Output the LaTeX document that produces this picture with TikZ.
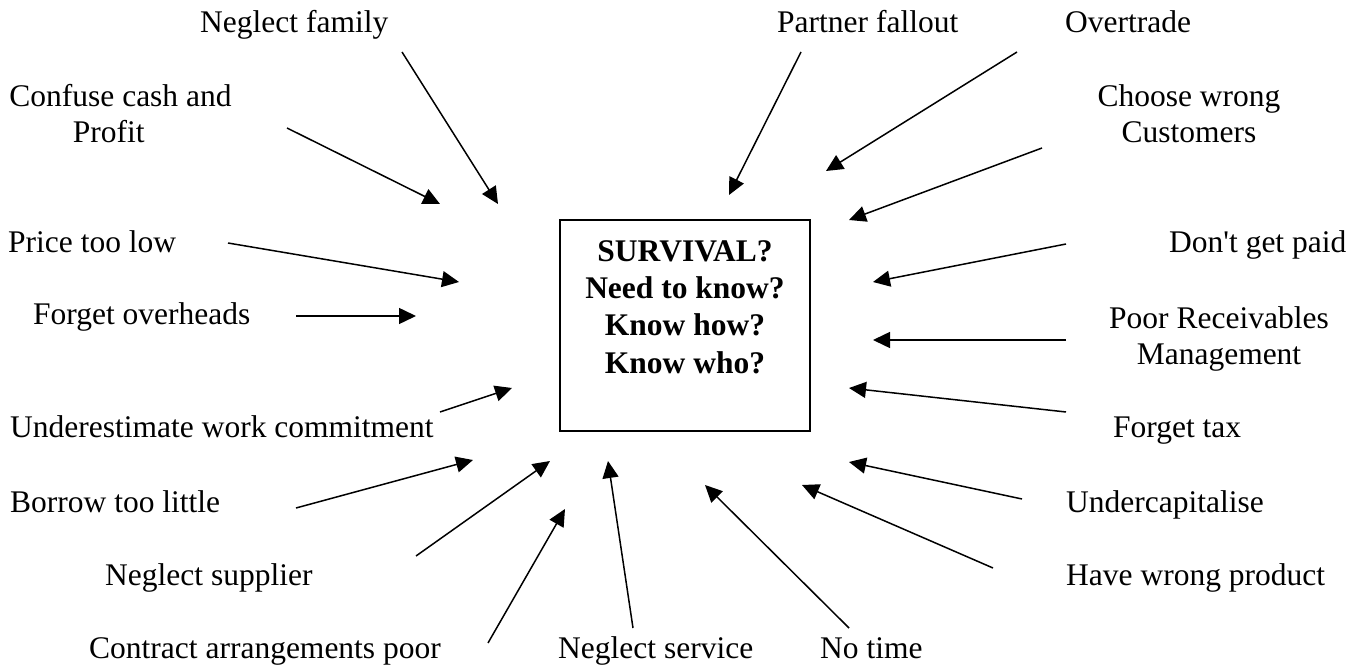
\documentclass[tikz,border=0pt]{standalone}
\usepackage{fontspec}
\setmainfont{Liberation Serif}
\usetikzlibrary{arrows.meta}
\begin{document}
\begin{tikzpicture}[x=1pt,y=-1pt,
    font=\fontsize{31.5pt}{36.7pt}\selectfont,
    cause/.style={anchor=base west,inner sep=0pt},
    pair/.style={anchor=base,align=center,inner sep=0pt},
    hub/.style={draw,line width=1.3pt,minimum width=250pt,minimum height=211pt,
      align=center,font=\fontsize{31.5pt}{37.3pt}\selectfont\bfseries}]
  \useasboundingbox (0,0) rectangle (1361,668);
  % centre box
  \draw
    (685,325.5) node[hub] (hub){SURVIVAL?\\Need to know?\\Know how?\\Know who?\\\mbox{}};
  % causes
  \draw
    (200,33) node[cause] (family){Neglect family}
    (777,33) node[cause] (partner){Partner fallout}
    (1065,33) node[cause] (overtrade){Overtrade}
    (120.5,143) node[pair] (cash){Confuse cash and\\Profit\hphantom{x\ }}
    (1189,143) node[pair] (customers){Choose wrong\\Customers}
    (8,253) node[cause] (price){Price too low}
    (1169,253) node[cause] (paid){Don\textquotesingle t get paid}
    (33,325) node[cause] (overheads){Forget overheads}
    (1219,365) node[pair] (receivables){Poor Receivables\\Management}
    (10,437) node[cause] (workload){Underestimate work commitment}
    (1113,438) node[cause] (tax){Forget tax}
    (10,512) node[cause] (borrow){Borrow too little}
    (1066,512) node[cause] (undercap){Undercapitalise}
    (105,585) node[cause] (supplier){Neglect supplier}
    (1066,585) node[cause] (product){Have wrong product}
    (89,658) node[cause] (contract){Contract arrangements poor}
    (558,658) node[cause] (service){Neglect service}
    (820,658) node[cause] (notime){No time};
  % arrow ends
  \path
    (402,52) coordinate (family-s)   (498,204) coordinate (family-t)
    (287,128) coordinate (cash-s)    (440,204) coordinate (cash-t)
    (228,243) coordinate (price-s)   (459,282) coordinate (price-t)
    (296,316) coordinate (overheads-s) (416,316) coordinate (overheads-t)
    (440,412) coordinate (workload-s) (512,388) coordinate (workload-t)
    (296,508) coordinate (borrow-s)  (473,460) coordinate (borrow-t)
    (416,556) coordinate (supplier-s) (550,461) coordinate (supplier-t)
    (488,643) coordinate (contract-s) (565,509) coordinate (contract-t)
    (633,628) coordinate (service-s) (608,461) coordinate (service-t)
    (849,628) coordinate (notime-s)  (705,485) coordinate (notime-t)
    (993,568) coordinate (product-s) (802,485) coordinate (product-t)
    (1022,499) coordinate (undercap-s) (849,462) coordinate (undercap-t)
    (1066,412) coordinate (tax-s)    (849,388) coordinate (tax-t)
    (1066,340) coordinate (receivables-s) (873,340) coordinate (receivables-t)
    (1066,244) coordinate (paid-s)   (873,282) coordinate (paid-t)
    (1042,148) coordinate (customers-s) (849,220) coordinate (customers-t)
    (1017,52) coordinate (overtrade-s) (826,171) coordinate (overtrade-t)
    (801,52) coordinate (partner-s)  (729,195) coordinate (partner-t);
  \begin{scope}[-{Triangle[length=17pt,width=16pt]},line width=1.5pt]
    \draw (family-s) to (family-t);
    \draw (cash-s) to (cash-t);
    \draw (price-s) to (price-t);
    \draw (overheads-s) to (overheads-t);
    \draw (workload-s) to (workload-t);
    \draw (borrow-s) to (borrow-t);
    \draw (supplier-s) to (supplier-t);
    \draw (contract-s) to (contract-t);
    \draw (service-s) to (service-t);
    \draw (notime-s) to (notime-t);
    \draw (product-s) to (product-t);
    \draw (undercap-s) to (undercap-t);
    \draw (tax-s) to (tax-t);
    \draw (receivables-s) to (receivables-t);
    \draw (paid-s) to (paid-t);
    \draw (customers-s) to (customers-t);
    \draw (overtrade-s) to (overtrade-t);
    \draw (partner-s) to (partner-t);
  \end{scope}
\end{tikzpicture}
\end{document}
